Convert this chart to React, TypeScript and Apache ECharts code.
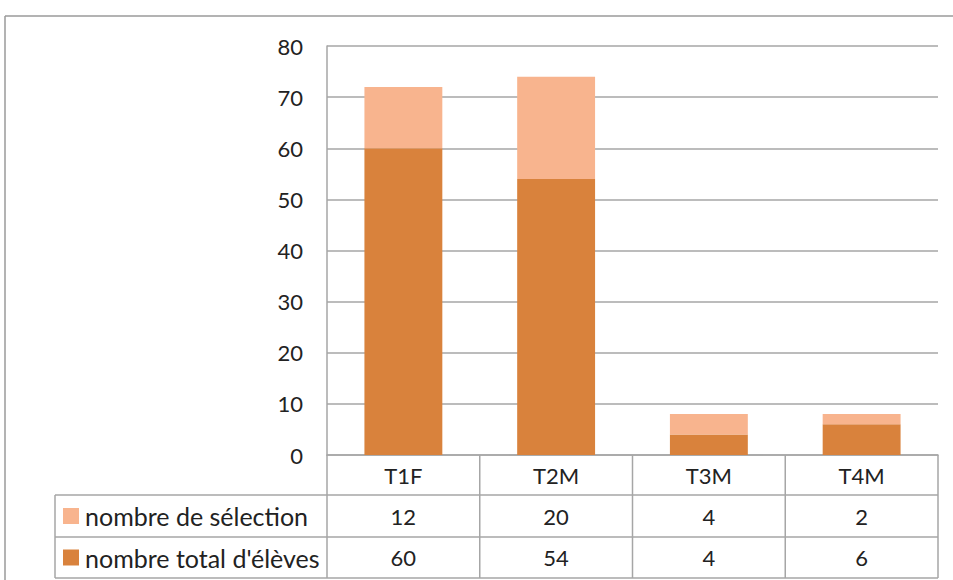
import React, { useEffect, useRef } from "react";
import * as echarts from "echarts";

const categories = ["T1F", "T2M", "T3M", "T4M"];
const selection = [12, 20, 4, 2];
const totalEleves = [60, 54, 4, 6];
const seriesNames = ["nombre de sélection", "nombre total d'élèves"];
const yTicks = { min: 0, max: 80, interval: 10 };

const W = 953;
const H = 580;
const PL = 327;
const PR = 938;
const PT = 46;
const PB = 455;
const ROW1 = 495;
const ROW2 = 537;
const ROW3 = 578;
const TABLE_L = 55;
const FONT = "Lato";
const FS = 22;
const FS_LEG = 25;
const TXT = "#222222";
const GRID = "#a6a6a6";
const DARK = "#d9823c";
const LIGHT = "#f8b48e";

export default function App() {
  const ref = useRef<HTMLDivElement>(null);
  useEffect(() => {
    document.body.style.margin = "0";
    const chart = echarts.init(ref.current!, undefined, { renderer: "svg" });
    const colW = (PR - PL) / categories.length;
    const graphics: any[] = [];
    const line = (x1: number, y1: number, x2: number, y2: number, color = GRID) =>
      graphics.push({
        type: "line",
        shape: { x1, y1, x2, y2 },
        style: { stroke: color, lineWidth: 1.5 },
        silent: true,
      });
    // outer frame
    line(5, 16, W, 16, "#9a9a9a");
    line(5, 16, 5, H, "#9a9a9a");
    // table
    line(TABLE_L, ROW1, PR, ROW1);
    line(TABLE_L, ROW2, PR, ROW2);
    line(TABLE_L, ROW3, PR, ROW3);
    line(TABLE_L, ROW1, TABLE_L, ROW3);
    for (let i = 0; i <= categories.length; i++) {
      const x = PL + i * colW;
      line(x, PB, x, ROW3);
    }
    const rows = [selection, totalEleves];
    const rowYs = [(ROW1 + ROW2) / 2, (ROW2 + ROW3) / 2];
    const colors = [LIGHT, DARK];
    rows.forEach((vals, r) => {
      graphics.push({
        type: "rect",
        shape: { x: 63, y: rowYs[r] - 8, width: 16, height: 16 },
        style: { fill: colors[r] },
      });
      graphics.push({
        type: "text",
        x: 85,
        y: rowYs[r],
        style: {
          text: seriesNames[r],
          font: `${FS_LEG}px ${FONT}`,
          fill: TXT,
          textVerticalAlign: "middle",
          textAlign: "left",
        },
      });
      vals.forEach((v, i) => {
        graphics.push({
          type: "text",
          x: PL + (i + 0.5) * colW,
          y: rowYs[r],
          style: {
            text: String(v),
            font: `${FS}px ${FONT}`,
            fill: TXT,
            textAlign: "center",
            textVerticalAlign: "middle",
          },
        });
      });
    });

    chart.setOption({
      animation: false,
      grid: { left: PL, right: W - PR, top: PT, bottom: H - PB, containLabel: false },
      xAxis: {
        type: "category",
        data: categories,
        axisLine: { show: true, lineStyle: { color: GRID, width: 1.5 } },
        axisTick: { show: false },
        axisLabel: {
          color: TXT,
          fontFamily: FONT,
          fontSize: FS,
          margin: 9,
        },
      },
      yAxis: {
        type: "value",
        min: yTicks.min,
        max: yTicks.max,
        interval: yTicks.interval,
        axisLine: { show: true, lineStyle: { color: GRID, width: 1.5 } },
        axisTick: { show: false },
        splitLine: { lineStyle: { color: GRID, width: 1.5 } },
        axisLabel: { color: TXT, fontFamily: FONT, fontSize: FS, margin: 24 },
      },
      series: [
        {
          name: seriesNames[1],
          type: "bar",
          stack: "s",
          data: totalEleves,
          barWidth: "51%",
          itemStyle: { color: DARK },
        },
        {
          name: seriesNames[0],
          type: "bar",
          stack: "s",
          data: selection,
          barWidth: "51%",
          itemStyle: { color: LIGHT },
        },
      ],
      graphic: graphics,
    });
    return () => chart.dispose();
  }, []);
  return (
    <div
      ref={ref}
      style={{ position: "absolute", left: 0, top: 0, width: W, height: H, background: "#fff" }}
    />
  );
}
